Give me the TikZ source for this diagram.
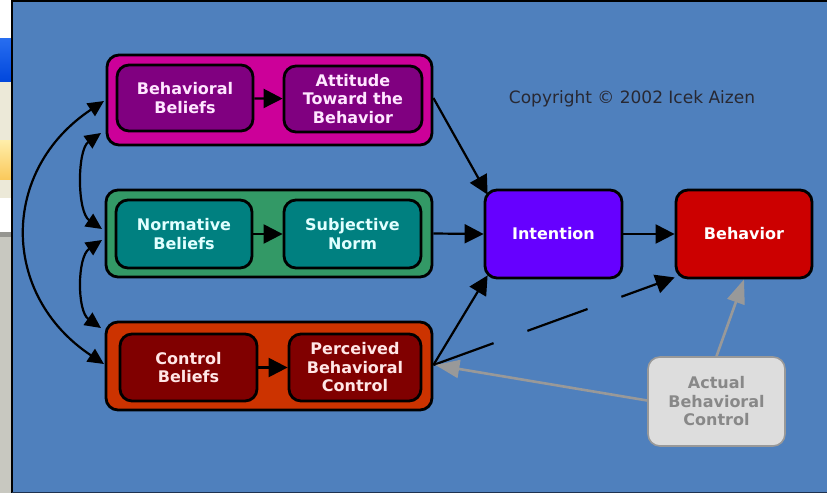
\documentclass[tikz,border=0pt]{standalone}
\usepackage{fontspec}
\setmainfont{DejaVu Sans}
\usetikzlibrary{arrows.meta}
\definecolor{bg}{HTML}{4F80BD}
\definecolor{magG}{HTML}{CC0099}
\definecolor{magI}{HTML}{800080}
\definecolor{grnG}{HTML}{339966}
\definecolor{grnI}{HTML}{008080}
\definecolor{redG}{HTML}{CC3300}
\definecolor{redI}{HTML}{800000}
\definecolor{intC}{HTML}{6600FF}
\definecolor{behC}{HTML}{CC0000}
\definecolor{abcF}{HTML}{DDDDDD}
\definecolor{abcT}{HTML}{888888}
\definecolor{grayA}{HTML}{999999}
\definecolor{txtM}{HTML}{FFE6FF}
\definecolor{txtG}{HTML}{E1FFFF}
\definecolor{txtR}{HTML}{FFE6E6}
\definecolor{copyC}{HTML}{282832}
\definecolor{sBlueA}{HTML}{286EF0}
\definecolor{sBlueB}{HTML}{0046DC}
\definecolor{sBeige}{HTML}{ECE9D8}
\definecolor{sYelA}{HTML}{FFEEAA}
\definecolor{sYelB}{HTML}{FAC85A}
\definecolor{sLine}{HTML}{969691}
\definecolor{sGray}{HTML}{C8C8C0}
\definecolor{botL}{HTML}{1E3250}
\tikzset{
  grp/.style={draw=black, line width=2.8pt, rounded corners=12pt, inner sep=0pt},
  inbox/.style={draw=black, line width=2.8pt, rounded corners=12pt, inner sep=0pt,
     text=white, align=center, font=\bfseries\fontsize{16}{18.5}\selectfont},
  blk/.style={draw=black, line width=2.2pt, -{Triangle[length=19pt,width=19pt]}},
  bblk/.style={draw=black, line width=2.2pt, {Triangle[length=16pt,width=15pt]}-{Triangle[length=16pt,width=15pt]}},
  gry/.style={draw=grayA, line width=2.6pt, -{Triangle[length=24pt,width=18pt]}},
}
\begin{document}
\begin{tikzpicture}[x=1pt,y=-1pt]
\useasboundingbox (0,0) rectangle (827,493);
% screenshot strip on the left
\fill[white] (0,0) rectangle (12,38);
\shade[top color=sBlueA, bottom color=sBlueB] (0,38) rectangle (12,82);
\fill[sBeige] (0,82) rectangle (12,140);
\shade[top color=sYelA, bottom color=sYelB] (0,140) rectangle (12,180);
\fill[sBeige] (0,180) rectangle (12,198);
\fill[white] (0,198) rectangle (12,232);
\fill[sLine] (0,232) rectangle (12,237);
\fill[sGray] (0,237) rectangle (12,493);
% main panel
\fill[bg] (12,0) rectangle (827,493);
\draw[black, line width=2pt] (12,0) -- (12,493);
\draw[black, line width=1.5pt] (12,0.75) -- (827,0.75);
\draw[botL, line width=1.5pt] (12,492.25) -- (827,492.25);

% groups
\node[grp, fill=magG, minimum width=325pt, minimum height=90pt] (tg) at (269.5,100) {};
\node[grp, fill=grnG, minimum width=326pt, minimum height=87pt] (mg) at (269,233.5) {};
\node[grp, fill=redG, minimum width=326pt, minimum height=88pt] (bg1) at (269,366) {};

% inner boxes
\node[inbox, fill=magI, minimum width=136pt, minimum height=66pt, text=txtM] (bb) at (185,98) {Behavioral\\Beliefs};
\node[inbox, fill=magI, minimum width=138pt, minimum height=66pt, text=txtM] (att) at (353,99) {Attitude\\Toward the\\Behavior};
\node[inbox, fill=grnI, minimum width=136pt, minimum height=68pt, text=txtG] (nb) at (184,234) {Normative\\Beliefs};
\node[inbox, fill=grnI, minimum width=137pt, minimum height=68pt, text=txtG] (sn) at (352.5,234) {Subjective\\Norm};
\node[inbox, fill=redI, minimum width=137pt, minimum height=67pt, text=txtR] (cb) at (188.5,367.5) {Control\\Beliefs};
\node[inbox, fill=redI, minimum width=132pt, minimum height=67pt, text=txtR] (pbc) at (355,367.5) {Perceived\\Behavioral\\Control};

% intention, behavior, actual control
\node[inbox, fill=intC, minimum width=137pt, minimum height=88pt] (int) at (553.5,234) {Intention};
\node[inbox, fill=behC, minimum width=136pt, minimum height=88pt] (beh) at (744,234) {Behavior};
\node[inbox, draw=grayA, line width=1.6pt, fill=abcF, text=abcT, minimum width=137pt, minimum height=89pt] (abc) at (716.5,401.5) {Actual\\Behavioral\\Control};

% copyright
\node[font=\fontsize{17}{18}\selectfont, text=copyC, inner sep=0pt] (copy) at (632,99) {Copyright © 2002 Icek Aizen};

% inner arrows
\draw[blk] (bb) -- (att);
\draw[blk] (nb) -- (sn);
\draw[blk] (cb) -- (pbc);

% arrows to intention
\coordinate (tgo) at ([yshift=2pt]tg.east);
\coordinate (bgo) at ([yshift=1pt]bg1.east);
\draw[blk] (tgo) -- ([shift={(4,6)}]int.north west);
\draw[blk] (mg.east) -- (int.west);
\draw[blk] (bgo) -- ([shift={(4,-4)}]int.south west);
\draw[blk] (int) -- (beh);
\draw[blk, dash pattern=on 64pt off 36pt] (bgo) -- ([shift={(0,-2)}]beh.south west);

% gray arrows
\draw[gry] ([yshift=1pt]abc.west) -- ([xshift=2pt]bgo);
\draw[gry] (abc.north) -- (beh.south);

% left curved connectors
\coordinate (t1) at (104,101);
\coordinate (b1) at (104,364);
\draw[bblk] (t1) .. controls (0,170) and (0,295) .. (b1);
\coordinate (t2) at (101,133);
\coordinate (m2) at (102,229);
\draw[bblk] (t2) .. controls (77,150) and (77,212) .. (m2);
\coordinate (m3) at (102,240);
\coordinate (b3) at (101,328);
\draw[bblk] (m3) .. controls (77,257) and (77,311) .. (b3);
\end{tikzpicture}
\end{document}
